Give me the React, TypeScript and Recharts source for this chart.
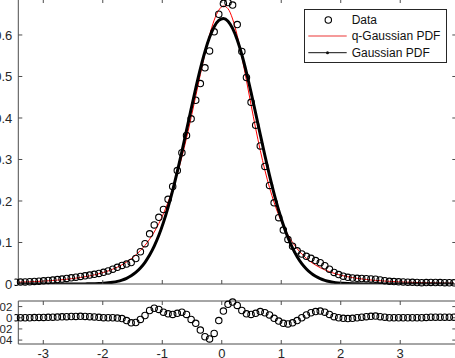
import React from 'react';
import { ComposedChart, Line, XAxis, YAxis } from 'recharts';

// sample positions shared by every series
const xs = [
  -3.46, -3.3825, -3.305, -3.2275, -3.15, -3.0725, -2.995, -2.9175, -2.84, -2.7625,
  -2.685, -2.6075, -2.53, -2.4525, -2.375, -2.2975, -2.22, -2.1425, -2.065, -1.9875,
  -1.91, -1.8325, -1.755, -1.6775, -1.6, -1.5225, -1.445, -1.3675, -1.29, -1.2125,
  -1.135, -1.0575, -0.98, -0.9025, -0.825, -0.7475, -0.67, -0.5925, -0.515, -0.4375,
  -0.36, -0.2825, -0.205, -0.1275, -0.05, 0.0275, 0.105, 0.1825, 0.26, 0.3375,
  0.415, 0.4925, 0.57, 0.6475, 0.725, 0.8025, 0.88, 0.9575, 1.035, 1.1125,
  1.19, 1.2675, 1.345, 1.4225, 1.5, 1.5775, 1.655, 1.7325, 1.81, 1.8875,
  1.965, 2.0425, 2.12, 2.1975, 2.275, 2.3525, 2.43, 2.5075, 2.585, 2.6625,
  2.74, 2.8175, 2.895, 2.9725, 3.05, 3.1275, 3.205, 3.2825, 3.36, 3.4375,
  3.515, 3.5925, 3.67, 3.7475, 3.825, 3.9025,
];

const measured = [
  0.0042, 0.0046, 0.005, 0.0054, 0.0062, 0.0069, 0.0077, 0.0085, 0.0095, 0.0106,
  0.0119, 0.0134, 0.0149, 0.0165, 0.0182, 0.0198, 0.0216, 0.0234, 0.0254, 0.0281,
  0.0315, 0.0357, 0.0401, 0.0448, 0.048, 0.0518, 0.0614, 0.0777, 0.0972, 0.121,
  0.1424, 0.1607, 0.1795, 0.2041, 0.2349, 0.2733, 0.3163, 0.3578, 0.398, 0.4427,
  0.4829, 0.5209, 0.5617, 0.6077, 0.65, 0.676, 0.678, 0.672, 0.625, 0.5605,
  0.4975, 0.4378, 0.3828, 0.3328, 0.2832, 0.2375, 0.1955, 0.1598, 0.13, 0.1073,
  0.0911, 0.08, 0.0723, 0.0668, 0.0619, 0.0565, 0.0513, 0.044, 0.0356, 0.0278,
  0.0226, 0.0188, 0.016, 0.0145, 0.0137, 0.0132, 0.0129, 0.0122, 0.0117, 0.0098,
  0.0081, 0.0064, 0.0058, 0.0052, 0.0048, 0.0043, 0.004, 0.0036, 0.0033, 0.0035,
  0.0038, 0.0036, 0.0034, 0.0032, 0.003, 0.0029,
];

const qGaussPdf = [
  0.0042, 0.0046, 0.005, 0.0054, 0.0059, 0.0064, 0.0071, 0.0077, 0.0085, 0.0094,
  0.0103, 0.0114, 0.0127, 0.0141, 0.0157, 0.0175, 0.0196, 0.022, 0.0247, 0.0279,
  0.0315, 0.0357, 0.0406, 0.0463, 0.053, 0.0608, 0.0699, 0.0807, 0.0932, 0.108,
  0.1254, 0.1457, 0.1695, 0.1971, 0.2289, 0.2653, 0.3063, 0.3518, 0.401, 0.4527,
  0.5049, 0.5549, 0.5997, 0.6357, 0.6598, 0.6698, 0.6633, 0.6385, 0.5985, 0.5475,
  0.4905, 0.4318, 0.3748, 0.3218, 0.2742, 0.2325, 0.1965, 0.1658, 0.14, 0.1183,
  0.1001, 0.085, 0.0723, 0.0618, 0.0529, 0.0455, 0.0393, 0.034, 0.0296, 0.0258,
  0.0226, 0.0198, 0.0175, 0.0155, 0.0137, 0.0122, 0.0109, 0.0097, 0.0087, 0.0078,
  0.0071, 0.0064, 0.0058, 0.0052, 0.0048, 0.0043, 0.004, 0.0036, 0.0033, 0.003,
  0.0028, 0.0026, 0.0024, 0.0022, 0.002, 0.0019,
];

const gaussPdf = [
  0, 0, 0, 0, 0, 0, 0, 0, 0, 0,
  0, 0, 0, 0.0001, 0.0001, 0.0003, 0.0004, 0.0007, 0.0011, 0.0018,
  0.0028, 0.0043, 0.0064, 0.0095, 0.0138, 0.0198, 0.0278, 0.0384, 0.0522, 0.0696,
  0.0911, 0.1173, 0.1485, 0.1846, 0.2255, 0.2707, 0.3192, 0.37, 0.4213, 0.4714,
  0.5183, 0.5599, 0.5944, 0.62, 0.6354, 0.64, 0.6333, 0.6158, 0.5884, 0.5524,
  0.5096, 0.4619, 0.4114, 0.36, 0.3096, 0.2616, 0.2173, 0.1772, 0.1421, 0.1119,
  0.0866, 0.0659, 0.0492, 0.0362, 0.0261, 0.0185, 0.0129, 0.0088, 0.0059, 0.0039,
  0.0026, 0.0016, 0.001, 0.0006, 0.0004, 0.0002, 0.0001, 0, 0, 0,
  0, 0, 0, 0, 0, 0, 0, 0, 0, 0,
  0, 0, 0, 0, 0, 0,
];

const residuals = [
  0, 0, 0, 0, 0.0003, 0.0005, 0.0006, 0.0008, 0.001, 0.0012,
  0.0016, 0.002, 0.0022, 0.0024, 0.0025, 0.0023, 0.002, 0.0014, 0.0007, 0.0002,
  0, 0, -0.0005, -0.0015, -0.005, -0.009, -0.0085, -0.003, 0.004, 0.013,
  0.017, 0.015, 0.01, 0.007, 0.006, 0.008, 0.01, 0.006, -0.003, -0.01,
  -0.022, -0.034, -0.038, -0.028, -0.005, 0.012, 0.024, 0.028, 0.022, 0.013,
  0.007, 0.006, 0.008, 0.011, 0.009, 0.005, -0.001, -0.006, -0.01, -0.011,
  -0.009, -0.005, 0, 0.005, 0.009, 0.011, 0.012, 0.01, 0.006, 0.002,
  0, -0.001, -0.0015, -0.001, 0, 0.001, 0.002, 0.0025, 0.003, 0.002,
  0.001, 0, 0, 0, 0, 0, 0, 0, 0, 0.0005,
  0.001, 0.001, 0.001, 0.001, 0.001, 0.001,
];

const xTicks = [-3, -2, -1, 0, 1, 2, 3];
const mainYTicks = [0, 0.1, 0.2, 0.3, 0.4, 0.5, 0.6];
const resYTicks = [-0.04, -0.02, 0, 0.02];

const mainRows = xs.map((x, i) => ({ x, data: measured[i], q: qGaussPdf[i], g: gaussPdf[i] }));
const resRows = xs.map((x, i) => ({ x, r: residuals[i] }));

const X_DOMAIN: [number, number] = [-3.42, 3.9425];
const AX = '#4d4d4d';
const TXT = '#262626';
const FONT = '"Liberation Sans", Arial, Helvetica, sans-serif';
const tickStyle = { fill: TXT, fontSize: 13, fontFamily: FONT };
const smallTick = { fill: TXT, fontSize: 11.5, fontFamily: FONT };
const blank = () => '';
const circleDot = { r: 3.2, stroke: '#000', strokeWidth: 1.1, fill: 'none', clipDot: false };

function Legend() {
  return (
    <svg width={143} height={54} style={{ position: 'absolute', left: 304, top: 9 }}>
      <rect x={0.5} y={0.5} width={142} height={53} fill="#fff" stroke="#262626" strokeWidth={1} />
      <circle cx={24.3} cy={11} r={3.2} fill="none" stroke="#000" strokeWidth={1.1} />
      <line x1={4.3} x2={42.7} y1={27} y2={27} stroke="#f59a9a" strokeWidth={2} />
      <line x1={4.3} x2={42.7} y1={43.7} y2={43.7} stroke="#111" strokeWidth={1} />
      <circle cx={23.5} cy={43.7} r={1.5} fill="#111" />
      <g fontFamily={FONT} fontSize={12} fill="#111">
        <text x={47.7} y={15.3}>Data</text>
        <text x={47.7} y={31.3}>q-Gaussian PDF</text>
        <text x={47.7} y={48}>Gaussian PDF</text>
      </g>
    </svg>
  );
}

export default function App() {
  return (
    <div style={{ position: 'absolute', left: 0, top: 0, width: 455, height: 358, overflow: 'hidden', background: '#fff' }}>
      <div style={{ position: 'absolute', left: -50, top: -20 }}>
        <ComposedChart width={520} height={320} data={mainRows} margin={{ top: 9, right: 3.7, bottom: 6, left: 0 }}>
          <XAxis xAxisId="b" dataKey="x" type="number" domain={X_DOMAIN} allowDataOverflow ticks={xTicks} interval={0}
            height={10} tickSize={-4} tickFormatter={blank} stroke={AX} />
          <XAxis xAxisId="t" orientation="top" dataKey="x" type="number" domain={X_DOMAIN} allowDataOverflow ticks={xTicks} interval={0}
            height={10} tickSize={-4} tickFormatter={blank} stroke={AX} />
          <YAxis yAxisId="l" type="number" domain={[0, 0.6867]} allowDataOverflow ticks={mainYTicks} interval={0}
            width={68.3} tickSize={-4} tickMargin={10} stroke={AX} tick={tickStyle} />
          <YAxis yAxisId="r" orientation="right" type="number" domain={[0, 0.6867]} allowDataOverflow ticks={mainYTicks} interval={0}
            width={10} tickSize={-4} tickFormatter={blank} stroke={AX} />
          <Line xAxisId="b" yAxisId="l" dataKey="data" stroke="none" dot={circleDot} activeDot={false} isAnimationActive={false} />
          <Line xAxisId="b" yAxisId="l" dataKey="q" type="monotone" stroke="#ff0000" strokeWidth={1} dot={false} activeDot={false} isAnimationActive={false} />
          <Line xAxisId="b" yAxisId="l" dataKey="g" type="monotone" stroke="#000" strokeWidth={3} dot={false} activeDot={false} isAnimationActive={false} />
        </ComposedChart>
      </div>
      <div style={{ position: 'absolute', left: -50, top: 280 }}>
        <ComposedChart width={520} height={100} data={resRows} margin={{ top: 11, right: 3.7, bottom: 6, left: 0 }}>
          <XAxis xAxisId="b" dataKey="x" type="number" domain={X_DOMAIN} allowDataOverflow ticks={xTicks} interval={0}
            height={30} tickSize={-4} tickMargin={9} stroke={AX} tick={tickStyle} />
          <XAxis xAxisId="t" orientation="top" dataKey="x" type="number" domain={X_DOMAIN} allowDataOverflow ticks={xTicks} interval={0}
            height={10} tickSize={-4} tickFormatter={blank} stroke={AX} />
          <YAxis yAxisId="l" type="number" domain={[-0.047, 0.03]} allowDataOverflow ticks={resYTicks} interval={0}
            width={68.3} tickSize={-4} tickMargin={10} stroke={AX} tick={smallTick} />
          <YAxis yAxisId="r" orientation="right" type="number" domain={[-0.047, 0.03]} allowDataOverflow ticks={resYTicks} interval={0}
            width={10} tickSize={-4} tickFormatter={blank} stroke={AX} />
          <Line xAxisId="b" yAxisId="l" dataKey="r" stroke="none" dot={circleDot} activeDot={false} isAnimationActive={false} />
        </ComposedChart>
      </div>
      <Legend />
    </div>
  );
}
